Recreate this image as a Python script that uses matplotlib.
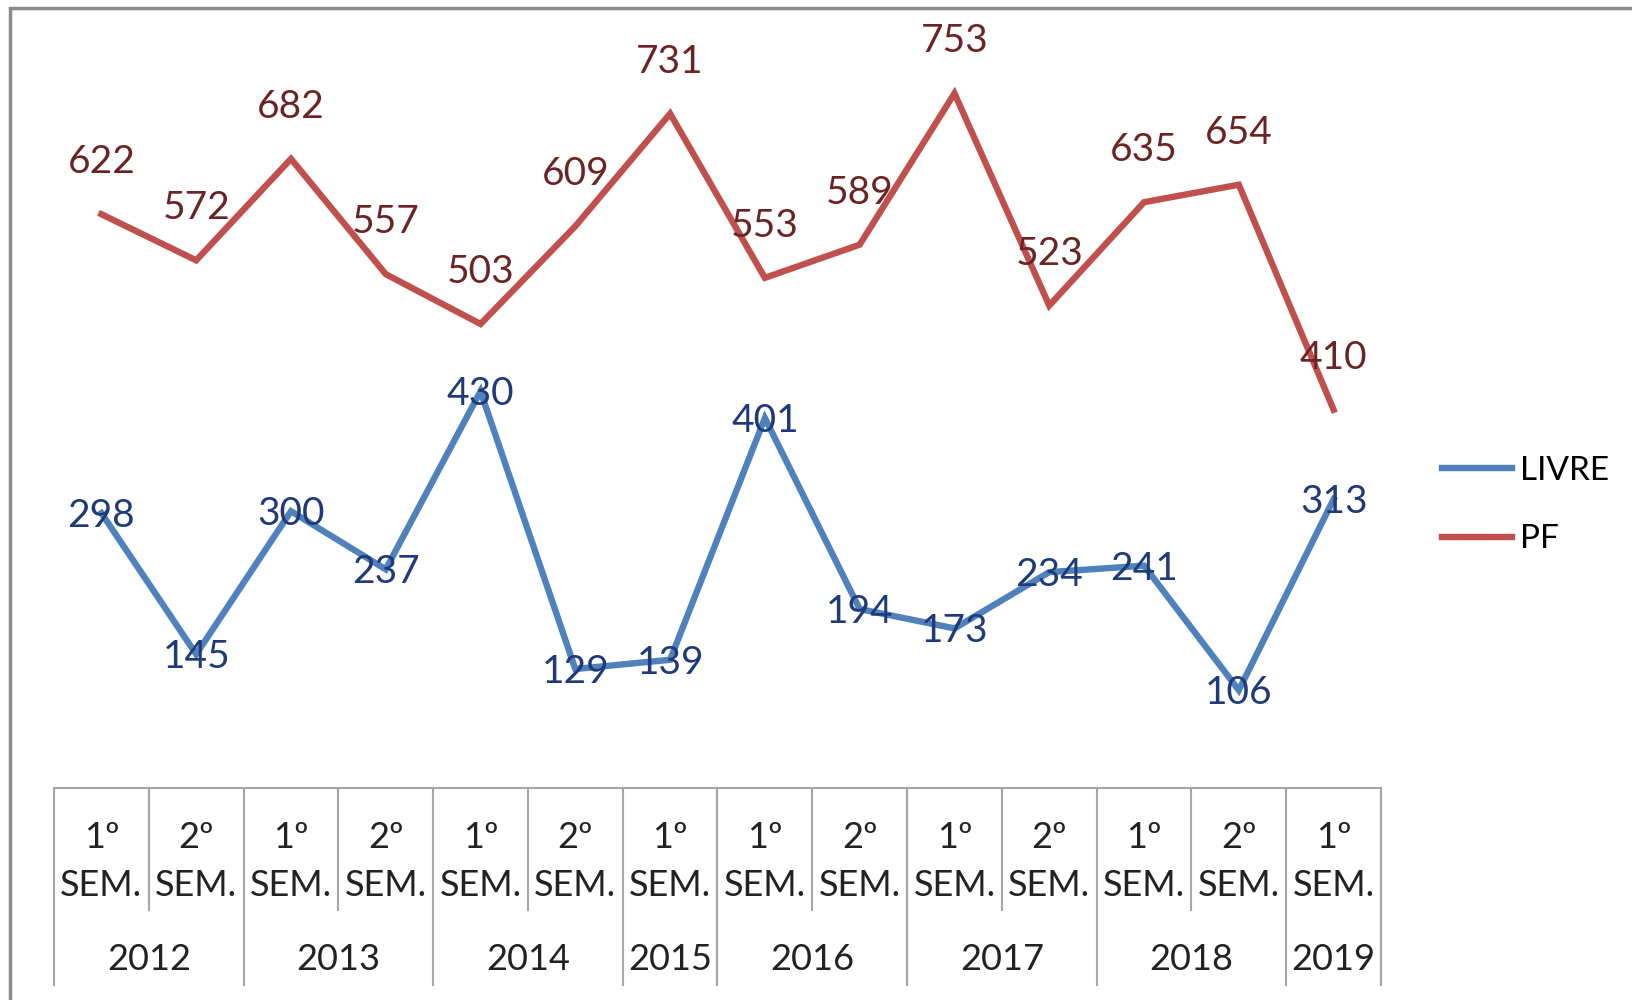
import matplotlib.pyplot as plt
from matplotlib.patches import Rectangle

plt.rcParams['font.family'] = ['Lato', 'DejaVu Sans']

# data
years = ['2012', '2013', '2014', '2015', '2016', '2017', '2018', '2019']
sems_per_year = [2, 2, 2, 1, 2, 2, 2, 1]
sem_labels = ['1º', '2º', '1º', '2º', '1º', '2º', '1º', '1º', '2º', '1º', '2º', '1º', '2º', '1º']
livre = [298, 145, 300, 237, 430, 129, 139, 401, 194, 173, 234, 241, 106, 313]
pf = [622, 572, 682, 557, 503, 609, 731, 553, 589, 753, 523, 635, 654, 410]

blue = '#4F81BD'
red = '#C0504D'
blue_txt = '#1F3A78'
red_txt = '#6B2423'
grey = '#A6A6A6'

W, H = 1632, 1000
fig = plt.figure(figsize=(W / 100, H / 100), dpi=100)

# outer chart frame (cut off at right and bottom)
fig.patches.append(Rectangle((10 / W, -0.1), 1.2, 1.1 - 8 / H, transform=fig.transFigure,
                             fill=False, edgecolor='#8C8C8C', linewidth=2.5))

left, right, top, bottom = 54, 1381, 50, 788
ax = fig.add_axes([left / W, 1 - bottom / H, (right - left) / W, (bottom - top) / H])
x = list(range(len(livre)))
ax.plot(x, livre, color=blue, lw=4.6, label='LIVRE', solid_joinstyle='miter')
ax.plot(x, pf, color=red, lw=4.6, label='PF', solid_joinstyle='miter')
ax.set_xlim(-0.5, len(x) - 0.5)
ax.set_ylim(0, 800)
ax.set_xticks([])
ax.set_yticks([])
for s in ['left', 'right', 'top']:
    ax.spines[s].set_visible(False)
ax.spines['bottom'].set_color(grey)
ax.spines['bottom'].set_linewidth(1.5)

for xi, v in zip(x, livre):
    ax.annotate(str(v), (xi, v), xytext=(0, -3), textcoords='offset pixels',
                ha='center', va='center', fontsize=28, color=blue_txt)
for xi, v in zip(x, pf):
    ax.annotate(str(v), (xi, v), xytext=(0, 52), textcoords='offset pixels',
                ha='center', va='center', fontsize=28, color=red_txt)

# category table under the axis
ah = bottom - top
def fy(py):
    return -(py - bottom) / ah

tr = ax.get_xaxis_transform()
bounds = [0]
for n in sems_per_year:
    bounds.append(bounds[-1] + n)
for b in range(len(x) + 1):
    yb = fy(985) if b in bounds else fy(910)
    ax.plot([b - 0.5, b - 0.5], [0, yb], transform=tr, color=grey, lw=1.5, clip_on=False)

for xi, s in zip(x, sem_labels):
    ax.text(xi, fy(838), s, transform=tr, ha='center', va='center', fontsize=26, color='#222222')
    ax.text(xi, fy(885), 'SEM.', transform=tr, ha='center', va='center', fontsize=26, color='#222222')
for i, yr in enumerate(years):
    c = (bounds[i] + bounds[i + 1]) / 2 - 0.5
    ax.text(c, fy(960), yr, transform=tr, ha='center', va='center', fontsize=26, color='#222222')

fig.legend(loc='center left', bbox_to_anchor=(1412 / W, 1 - 505 / H), frameon=False,
           fontsize=24, handlelength=2.1, handletextpad=0.25, labelspacing=1.15)

fig.savefig('out.png', dpi=100)
